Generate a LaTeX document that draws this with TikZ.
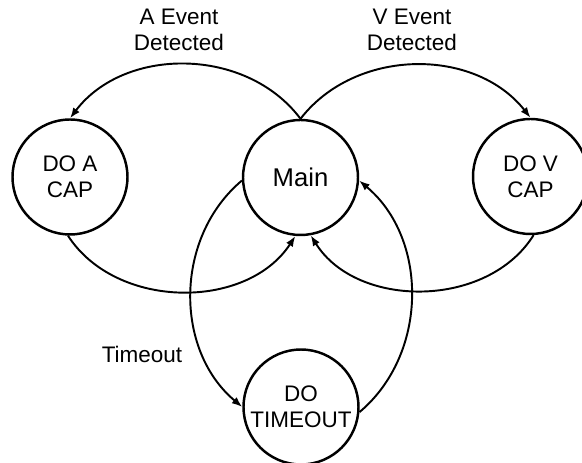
\documentclass[tikz,border=0pt]{standalone}
\usepackage{fontspec}
\setmainfont{Liberation Sans}
\usetikzlibrary{arrows.meta}
\tikzset{
  state/.style={draw, circle, line width=1.4pt, minimum size=2.3cm, inner sep=0pt,
    align=center, font=\fontsize{12.8}{15}\selectfont},
  event/.style={align=center, font=\fontsize{12.8}{15}\selectfont},
  trans/.style={line width=1.1pt, -{Latex[length=6pt,width=4.5pt]}}
}

\begin{document}
\begin{tikzpicture}[x=0.02cm, y=0.02cm]
	%%%%% START %%%%%
	\useasboundingbox (0,0) rectangle (582,463);

	% states
	\node[state, font=\fontsize{14.6}{17}\selectfont] (main) at (300.5,285.5) {Main};
	\node[state] (doa) at (70,286) {DO A\\CAP};
	\node[state] (dov) at (530.5,286.5) {DO V\\CAP};
	\node[state] (dotime) at (301,56) {DO\\TIMEOUT};

	% event labels
	\node[event] (aevent) at (179,433) {A Event\\Detected};
	\node[event] (vevent) at (412,433) {V Event\\Detected};
	\node[event] (tevent) at (142,109) {Timeout};

	% upper arcs
	\draw[trans] (main.north) to[bend right=53] (doa.north);
	\draw[trans] (main.north) to[bend left=52] (dov.north);

	% returns into main
	\draw[trans] (doa.-92) to[bend right=57] (main.-95);
	\draw[trans] (dov.-87) to[bend left=58] (main.-80);

	% timeout loop
	\draw[trans] (main.183) to[bend right=50] (dotime.west);
	\draw[trans] (dotime.-5) to[bend right=50] (main.-3);

	%%%%% END %%%%%
\end{tikzpicture}
\end{document}
